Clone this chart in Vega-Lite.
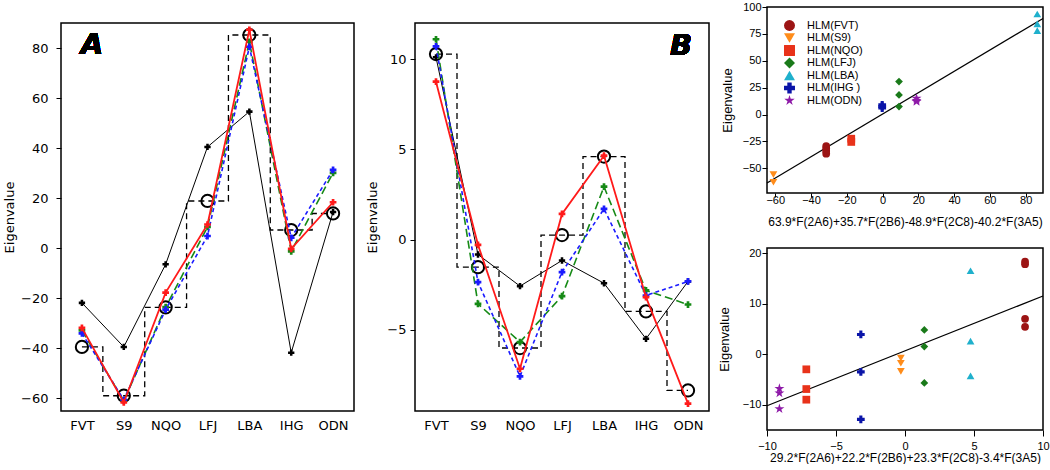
{
  "$schema": "https://vega.github.io/schema/vega-lite/v6.json",
  "padding": {"left": 2, "top": 0, "right": 0, "bottom": 0},
  "background": "white",
  "datasets": {
    "ab": [
      {"panel": "A", "model": "exp", "cat": "FVT", "value": -39.4},
      {"panel": "A", "model": "exp", "cat": "S9", "value": -58.9},
      {"panel": "A", "model": "exp", "cat": "NQO", "value": -23.6},
      {"panel": "A", "model": "exp", "cat": "LFJ", "value": 18.9},
      {"panel": "A", "model": "exp", "cat": "LBA", "value": 85.2},
      {"panel": "A", "model": "exp", "cat": "IHG", "value": 7.3},
      {"panel": "A", "model": "exp", "cat": "ODN", "value": 13.9},
      {"panel": "A", "model": "black", "cat": "FVT", "value": -21.8},
      {"panel": "A", "model": "black", "cat": "S9", "value": -39.4},
      {"panel": "A", "model": "black", "cat": "NQO", "value": -6.4},
      {"panel": "A", "model": "black", "cat": "LFJ", "value": 40.5},
      {"panel": "A", "model": "black", "cat": "LBA", "value": 54.6},
      {"panel": "A", "model": "black", "cat": "IHG", "value": -41.7},
      {"panel": "A", "model": "black", "cat": "ODN", "value": 14.5},
      {"panel": "A", "model": "red", "cat": "FVT", "value": -31.8},
      {"panel": "A", "model": "red", "cat": "S9", "value": -61.6},
      {"panel": "A", "model": "red", "cat": "NQO", "value": -17.7},
      {"panel": "A", "model": "red", "cat": "LFJ", "value": 9.5},
      {"panel": "A", "model": "red", "cat": "LBA", "value": 87.3},
      {"panel": "A", "model": "red", "cat": "IHG", "value": -0.2},
      {"panel": "A", "model": "red", "cat": "ODN", "value": 18.4},
      {"panel": "A", "model": "green", "cat": "FVT", "value": -32.8},
      {"panel": "A", "model": "green", "cat": "S9", "value": -61},
      {"panel": "A", "model": "green", "cat": "NQO", "value": -23.5},
      {"panel": "A", "model": "green", "cat": "LFJ", "value": 8.5},
      {"panel": "A", "model": "green", "cat": "LBA", "value": 82.5},
      {"panel": "A", "model": "green", "cat": "IHG", "value": -1.2},
      {"panel": "A", "model": "green", "cat": "ODN", "value": 30.1},
      {"panel": "A", "model": "blue", "cat": "FVT", "value": -34},
      {"panel": "A", "model": "blue", "cat": "S9", "value": -60.5},
      {"panel": "A", "model": "blue", "cat": "NQO", "value": -24.5},
      {"panel": "A", "model": "blue", "cat": "LFJ", "value": 4.9},
      {"panel": "A", "model": "blue", "cat": "LBA", "value": 80.5},
      {"panel": "A", "model": "blue", "cat": "IHG", "value": 4.2},
      {"panel": "A", "model": "blue", "cat": "ODN", "value": 31.3},
      {"panel": "B", "model": "exp", "cat": "FVT", "value": 10.28},
      {"panel": "B", "model": "exp", "cat": "S9", "value": -1.53},
      {"panel": "B", "model": "exp", "cat": "NQO", "value": -6.01},
      {"panel": "B", "model": "exp", "cat": "LFJ", "value": 0.25},
      {"panel": "B", "model": "exp", "cat": "LBA", "value": 4.6},
      {"panel": "B", "model": "exp", "cat": "IHG", "value": -3.98},
      {"panel": "B", "model": "exp", "cat": "ODN", "value": -8.36},
      {"panel": "B", "model": "black", "cat": "FVT", "value": 10.1},
      {"panel": "B", "model": "black", "cat": "S9", "value": -0.83},
      {"panel": "B", "model": "black", "cat": "NQO", "value": -2.58},
      {"panel": "B", "model": "black", "cat": "LFJ", "value": -1.16},
      {"panel": "B", "model": "black", "cat": "LBA", "value": -2.42},
      {"panel": "B", "model": "black", "cat": "IHG", "value": -5.5},
      {"panel": "B", "model": "black", "cat": "ODN", "value": -2.32},
      {"panel": "B", "model": "red", "cat": "FVT", "value": 8.75},
      {"panel": "B", "model": "red", "cat": "S9", "value": -0.29},
      {"panel": "B", "model": "red", "cat": "NQO", "value": -7.16},
      {"panel": "B", "model": "red", "cat": "LFJ", "value": 1.42},
      {"panel": "B", "model": "red", "cat": "LBA", "value": 4.65},
      {"panel": "B", "model": "red", "cat": "IHG", "value": -3.19},
      {"panel": "B", "model": "red", "cat": "ODN", "value": -9.09},
      {"panel": "B", "model": "green", "cat": "FVT", "value": 11.1},
      {"panel": "B", "model": "green", "cat": "S9", "value": -3.56},
      {"panel": "B", "model": "green", "cat": "NQO", "value": -5.68},
      {"panel": "B", "model": "green", "cat": "LFJ", "value": -3.13},
      {"panel": "B", "model": "green", "cat": "LBA", "value": 2.93},
      {"panel": "B", "model": "green", "cat": "IHG", "value": -2.82},
      {"panel": "B", "model": "green", "cat": "ODN", "value": -3.6},
      {"panel": "B", "model": "blue", "cat": "FVT", "value": 10.7},
      {"panel": "B", "model": "blue", "cat": "S9", "value": -2.36},
      {"panel": "B", "model": "blue", "cat": "NQO", "value": -7.58},
      {"panel": "B", "model": "blue", "cat": "LFJ", "value": -1.8},
      {"panel": "B", "model": "blue", "cat": "LBA", "value": 1.7},
      {"panel": "B", "model": "blue", "cat": "IHG", "value": -3.1},
      {"panel": "B", "model": "blue", "cat": "ODN", "value": -2.32}
    ],
    "cd": [
      {"panel": "C", "series": "HLM(FVT)", "x": -31.5, "y": -29.3},
      {"panel": "C", "series": "HLM(FVT)", "x": -31.5, "y": -31.5},
      {"panel": "C", "series": "HLM(FVT)", "x": -31.5, "y": -34},
      {"panel": "C", "series": "HLM(FVT)", "x": -31.5, "y": -36.4},
      {"panel": "C", "series": "HLM(S9)", "x": -61, "y": -56},
      {"panel": "C", "series": "HLM(S9)", "x": -61, "y": -63},
      {"panel": "C", "series": "HLM(NQO)", "x": -17.5, "y": -22.5},
      {"panel": "C", "series": "HLM(NQO)", "x": -17.5, "y": -25.5},
      {"panel": "C", "series": "HLM(LFJ)", "x": 9.2, "y": 30.6},
      {"panel": "C", "series": "HLM(LFJ)", "x": 9.2, "y": 18.2},
      {"panel": "C", "series": "HLM(LFJ)", "x": 9.2, "y": 7.4},
      {"panel": "C", "series": "HLM(LBA)", "x": 86.5, "y": 93.5},
      {"panel": "C", "series": "HLM(LBA)", "x": 86.5, "y": 84.3},
      {"panel": "C", "series": "HLM(LBA)", "x": 86.5, "y": 78.1},
      {"panel": "C", "series": "HLM(IHG )", "x": -0.2, "y": 9},
      {"panel": "C", "series": "HLM(IHG )", "x": -0.2, "y": 7.5},
      {"panel": "C", "series": "HLM(IHG )", "x": -0.2, "y": 6},
      {"panel": "C", "series": "HLM(ODN)", "x": 19, "y": 15},
      {"panel": "C", "series": "HLM(ODN)", "x": 19, "y": 13},
      {"panel": "C", "series": "HLM(ODN)", "x": 19, "y": 12},
      {"panel": "D", "series": "HLM(FVT)", "x": 8.7, "y": 18.3},
      {"panel": "D", "series": "HLM(FVT)", "x": 8.7, "y": 17.8},
      {"panel": "D", "series": "HLM(FVT)", "x": 8.7, "y": 7.0},
      {"panel": "D", "series": "HLM(FVT)", "x": 8.7, "y": 5.4},
      {"panel": "D", "series": "HLM(S9)", "x": -0.3, "y": -0.8},
      {"panel": "D", "series": "HLM(S9)", "x": -0.3, "y": -1.8},
      {"panel": "D", "series": "HLM(S9)", "x": -0.3, "y": -3.4},
      {"panel": "D", "series": "HLM(NQO)", "x": -7.15, "y": -3.0},
      {"panel": "D", "series": "HLM(NQO)", "x": -7.15, "y": -6.9},
      {"panel": "D", "series": "HLM(NQO)", "x": -7.15, "y": -9.0},
      {"panel": "D", "series": "HLM(LFJ)", "x": 1.4, "y": 4.8},
      {"panel": "D", "series": "HLM(LFJ)", "x": 1.4, "y": 1.5},
      {"panel": "D", "series": "HLM(LFJ)", "x": 1.4, "y": -5.7},
      {"panel": "D", "series": "HLM(LBA)", "x": 4.75, "y": 16.5},
      {"panel": "D", "series": "HLM(LBA)", "x": 4.75, "y": 2.6},
      {"panel": "D", "series": "HLM(LBA)", "x": 4.75, "y": -4.3},
      {"panel": "D", "series": "HLM(IHG )", "x": -3.2, "y": 3.9},
      {"panel": "D", "series": "HLM(IHG )", "x": -3.2, "y": -3.5},
      {"panel": "D", "series": "HLM(IHG )", "x": -3.2, "y": -12.9},
      {"panel": "D", "series": "HLM(ODN)", "x": -9.1, "y": -6.8},
      {"panel": "D", "series": "HLM(ODN)", "x": -9.1, "y": -7.7},
      {"panel": "D", "series": "HLM(ODN)", "x": -9.1, "y": -10.8}
    ],
    "fits": [
      {"panel": "C", "x": -64.6, "y": -63.8},
      {"panel": "C", "x": 89.7, "y": 89.4},
      {"panel": "D", "x": -10, "y": -10.2},
      {"panel": "D", "x": 10, "y": 11.5}
    ]
  },
  "columns": 2,
  "align": "none",
  "spacing": 8,
  "concat": [
    {
      "spacing": 10,
      "vconcat": [
        {
          "width": 10,
          "height": 4,
          "view": {"stroke": null, "fill": null},
          "data": {"values": [{"k": 0}]},
          "mark": {"type": "point", "opacity": 0},
          "encoding": {}
        },
        {
          "spacing": 11,
          "hconcat": [
            {
              "width": 293,
              "height": 388,
              "data": {"name": "ab"},
              "transform": [{"filter": "datum.panel == 'A'"}],
              "encoding": {
                "x": {"field": "cat", "type": "ordinal", "sort": null,
                  "scale": {"type": "point", "padding": 0.5, "domain": ["FVT", "S9", "NQO", "LFJ", "LBA", "IHG", "ODN"]},
                  "axis": {"title": null, "ticks": false, "labelPadding": 8, "labelAngle": 0, "labelFont": "DejaVu Sans", "labelFontSize": 13}},
                "y": {"field": "value", "type": "quantitative",
                  "scale": {"domain": [-65, 90], "nice": false, "zero": false},
                  "axis": {"title": "Eigenvalue", "values": [-60, -40, -20, 0, 20, 40, 60, 80], "tickSize": 5, "labelPadding": 8, "titlePadding": 4, "labelFont": "DejaVu Sans", "labelFontSize": 13, "titleFont": "DejaVu Sans", "titleFontSize": 13, "labelFlush": false}}
              },
              "layer": [
                {"transform": [{"filter": "datum.model == 'exp'"}], "mark": {"type": "line", "interpolate": "step", "color": "black", "strokeWidth": 1.3, "strokeDash": [6, 4]}},
                {"transform": [{"filter": "datum.model == 'exp'"}], "mark": {"type": "point", "shape": "circle", "filled": false, "size": 150, "strokeWidth": 2, "color": "black", "opacity": 1}},
                {"transform": [{"filter": "datum.model == 'black'"}], "mark": {"type": "line", "color": "black", "strokeWidth": 1, "point": {"shape": "cross", "filled": true, "size": 40, "color": "black"}}},
                {"transform": [{"filter": "datum.model == 'green'"}], "mark": {"type": "line", "color": "#168a16", "strokeWidth": 1.6, "strokeDash": [8, 4], "point": {"shape": "cross", "filled": true, "size": 45, "color": "#168a16"}}},
                {"transform": [{"filter": "datum.model == 'blue'"}], "mark": {"type": "line", "color": "#1a1aff", "strokeWidth": 1.6, "strokeDash": [4, 3], "point": {"shape": "cross", "filled": true, "size": 45, "color": "#1a1aff"}}},
                {"transform": [{"filter": "datum.model == 'red'"}], "mark": {"type": "line", "color": "#ff1a1a", "strokeWidth": 1.8, "point": {"shape": "cross", "filled": true, "size": 45, "color": "#ff1a1a"}}},
                {"mark": {"type": "text", "font": "DejaVu Sans", "fontSize": 29, "fontWeight": "bold", "fontStyle": "italic", "dx": 10, "color": "black"},
                  "encoding": {"x": {"datum": "FVT"}, "y": {"datum": 81.2}, "text": {"value": "A"}}}
              ]
            },
            {
              "width": 294,
              "height": 388,
              "data": {"name": "ab"},
              "transform": [{"filter": "datum.panel == 'B'"}],
              "encoding": {
                "x": {"field": "cat", "type": "ordinal", "sort": null,
                  "scale": {"type": "point", "padding": 0.5, "domain": ["FVT", "S9", "NQO", "LFJ", "LBA", "IHG", "ODN"]},
                  "axis": {"title": null, "ticks": false, "labelPadding": 8, "labelAngle": 0, "labelFont": "DejaVu Sans", "labelFontSize": 13}},
                "y": {"field": "value", "type": "quantitative",
                  "scale": {"domain": [-9.5, 12], "nice": false, "zero": false},
                  "axis": {"title": "Eigenvalue", "values": [-5, 0, 5, 10], "tickSize": 5, "labelPadding": 4, "titlePadding": 7, "labelFont": "DejaVu Sans", "labelFontSize": 13, "titleFont": "DejaVu Sans", "titleFontSize": 13, "labelFlush": false}}
              },
              "layer": [
                {"transform": [{"filter": "datum.model == 'exp'"}], "mark": {"type": "line", "interpolate": "step", "color": "black", "strokeWidth": 1.3, "strokeDash": [6, 4]}},
                {"transform": [{"filter": "datum.model == 'exp'"}], "mark": {"type": "point", "shape": "circle", "filled": false, "size": 150, "strokeWidth": 2, "color": "black", "opacity": 1}},
                {"transform": [{"filter": "datum.model == 'black'"}], "mark": {"type": "line", "color": "black", "strokeWidth": 1, "point": {"shape": "cross", "filled": true, "size": 40, "color": "black"}}},
                {"transform": [{"filter": "datum.model == 'green'"}], "mark": {"type": "line", "color": "#168a16", "strokeWidth": 1.6, "strokeDash": [8, 4], "point": {"shape": "cross", "filled": true, "size": 45, "color": "#168a16"}}},
                {"transform": [{"filter": "datum.model == 'blue'"}], "mark": {"type": "line", "color": "#1a1aff", "strokeWidth": 1.6, "strokeDash": [4, 3], "point": {"shape": "cross", "filled": true, "size": 45, "color": "#1a1aff"}}},
                {"transform": [{"filter": "datum.model == 'red'"}], "mark": {"type": "line", "color": "#ff1a1a", "strokeWidth": 1.8, "point": {"shape": "cross", "filled": true, "size": 45, "color": "#ff1a1a"}}},
                {"mark": {"type": "text", "font": "DejaVu Sans", "fontSize": 29, "fontWeight": "bold", "fontStyle": "italic", "dx": -7, "color": "black"},
                  "encoding": {"x": {"datum": "ODN"}, "y": {"datum": 10.7}, "text": {"value": "B"}}}
              ]
            }
          ]
        }
      ]
    },
    {
      "spacing": 18,
      "resolve": {"scale": {"color": "independent", "shape": "independent"}, "legend": {"color": "independent", "shape": "independent"}},
      "vconcat": [
        {
          "width": 276,
          "height": 186,
          "encoding": {
            "x": {"field": "x", "type": "quantitative",
              "scale": {"domain": [-64.6, 89.7], "nice": false, "zero": false},
              "axis": {"title": "63.9*F(2A6)+35.7*F(2B6)-48.9*F(2C8)-40.2*F(3A5)", "values": [-60, -40, -20, 0, 20, 40, 60, 80], "tickSize": 4, "labelPadding": -3, "titlePadding": 11, "labelFont": "Liberation Sans", "labelFontSize": 11, "titleFont": "Liberation Sans", "titleFontSize": 12, "labelFlush": false}},
            "y": {"field": "y", "type": "quantitative",
              "scale": {"domain": [-73, 100], "nice": false, "zero": false},
              "axis": {"title": "Eigenvalue", "values": [-50, -25, 0, 25, 50, 75, 100], "tickSize": 5, "labelPadding": 1, "titlePadding": 8, "labelFont": "Liberation Sans", "labelFontSize": 11, "titleFont": "Liberation Sans", "titleFontSize": 13, "labelFlush": false}}
          },
          "layer": [
            {"data": {"name": "fits"}, "transform": [{"filter": "datum.panel == 'C'"}], "mark": {"type": "line", "color": "black", "strokeWidth": 1.2}},
            {"data": {"name": "cd"}, "transform": [{"filter": "datum.panel == 'C' && datum.series != 'HLM(ODN)'"}],
              "mark": {"type": "point", "filled": true, "size": 60, "opacity": 1},
              "encoding": {
                "color": {"field": "series", "type": "nominal",
                  "scale": {"domain": ["HLM(FVT)", "HLM(S9)", "HLM(NQO)", "HLM(LFJ)", "HLM(LBA)", "HLM(IHG )", "HLM(ODN)"], "range": ["#9c1414", "#ff8c1a", "#e8321a", "#1a7a1a", "#1fb0cc", "#0a14a8", "#8e1aa8"]},
                  "legend": {"title": null, "orient": "none", "legendX": 17, "legendY": 13, "symbolSize": 120, "labelFont": "Liberation Sans", "labelFontSize": 11, "labelOffset": 12, "rowPadding": 0.5, "padding": 0, "symbolStrokeWidth": 0}},
                "shape": {"field": "series", "type": "nominal",
                  "scale": {"domain": ["HLM(FVT)", "HLM(S9)", "HLM(NQO)", "HLM(LFJ)", "HLM(LBA)", "HLM(IHG )", "HLM(ODN)"], "range": ["circle", "triangle-down", "square", "diamond", "triangle-up", "cross", "M0,-1L0.2245,-0.309L0.951,-0.309L0.363,0.118L0.588,0.809L0,0.382L-0.588,0.809L-0.363,0.118L-0.951,-0.309L-0.2245,-0.309Z"]}}
              }},
            {"data": {"name": "cd"}, "transform": [{"filter": "datum.panel == 'C' && datum.series == 'HLM(ODN)'"}],
              "mark": {"type": "point", "filled": true, "size": 110, "opacity": 1},
              "encoding": {
                "color": {"field": "series", "type": "nominal"},
                "shape": {"field": "series", "type": "nominal"}
              }},
            {"mark": {"type": "text", "font": "DejaVu Sans", "fontSize": 21, "fontWeight": "bold", "fontStyle": "italic", "color": "black"},
              "encoding": {"x": {"datum": 77.4}, "y": {"datum": -47.5}, "text": {"value": "C"}}}
          ]
        },
        {
          "width": 276,
          "height": 182,
          "encoding": {
            "x": {"field": "x", "type": "quantitative",
              "scale": {"domain": [-10, 10], "nice": false, "zero": false},
              "axis": {"title": "29.2*F(2A6)+22.2*F(2B6)+23.3*F(2C8)-3.4*F(3A5)", "values": [-10, -5, 0, 5, 10], "tickSize": 6, "labelPadding": 4, "titlePadding": 1, "labelFont": "Liberation Sans", "labelFontSize": 11, "titleFont": "Liberation Sans", "titleFontSize": 12, "labelFlush": false}},
            "y": {"field": "y", "type": "quantitative",
              "scale": {"domain": [-15, 21], "nice": false, "zero": false},
              "axis": {"title": "Eigenvalue", "values": [-10, 0, 10, 20], "tickSize": 5, "labelPadding": 1, "titlePadding": 10.4, "labelFont": "Liberation Sans", "labelFontSize": 11, "titleFont": "Liberation Sans", "titleFontSize": 13, "labelFlush": false}}
          },
          "layer": [
            {"data": {"name": "fits"}, "transform": [{"filter": "datum.panel == 'D'"}], "mark": {"type": "line", "color": "black", "strokeWidth": 1.2}},
            {"data": {"name": "cd"}, "transform": [{"filter": "datum.panel == 'D' && datum.series != 'HLM(ODN)'"}],
              "mark": {"type": "point", "filled": true, "size": 60, "opacity": 1},
              "encoding": {
                "color": {"field": "series", "type": "nominal",
                  "scale": {"domain": ["HLM(FVT)", "HLM(S9)", "HLM(NQO)", "HLM(LFJ)", "HLM(LBA)", "HLM(IHG )", "HLM(ODN)"], "range": ["#9c1414", "#ff8c1a", "#e8321a", "#1a7a1a", "#1fb0cc", "#0a14a8", "#8e1aa8"]},
                  "legend": null},
                "shape": {"field": "series", "type": "nominal",
                  "scale": {"domain": ["HLM(FVT)", "HLM(S9)", "HLM(NQO)", "HLM(LFJ)", "HLM(LBA)", "HLM(IHG )", "HLM(ODN)"], "range": ["circle", "triangle-down", "square", "diamond", "triangle-up", "cross", "M0,-1L0.2245,-0.309L0.951,-0.309L0.363,0.118L0.588,0.809L0,0.382L-0.588,0.809L-0.363,0.118L-0.951,-0.309L-0.2245,-0.309Z"]},
                  "legend": null}
              }},
            {"data": {"name": "cd"}, "transform": [{"filter": "datum.panel == 'D' && datum.series == 'HLM(ODN)'"}],
              "mark": {"type": "point", "filled": true, "size": 110, "opacity": 1},
              "encoding": {
                "color": {"field": "series", "type": "nominal", "legend": null},
                "shape": {"field": "series", "type": "nominal", "legend": null}
              }},
            {"mark": {"type": "text", "font": "DejaVu Sans", "fontSize": 21, "fontWeight": "bold", "fontStyle": "italic", "color": "black"},
              "encoding": {"x": {"datum": 8.47}, "y": {"datum": -10.5}, "text": {"value": "D"}}}
          ]
        }
      ]
    }
  ],
  "config": {
    "view": {"stroke": "black", "strokeWidth": 1.5},
    "axis": {"grid": false, "domain": false, "tickColor": "black", "labelColor": "black", "titleColor": "black", "titleFontWeight": "normal"}
  }
}
